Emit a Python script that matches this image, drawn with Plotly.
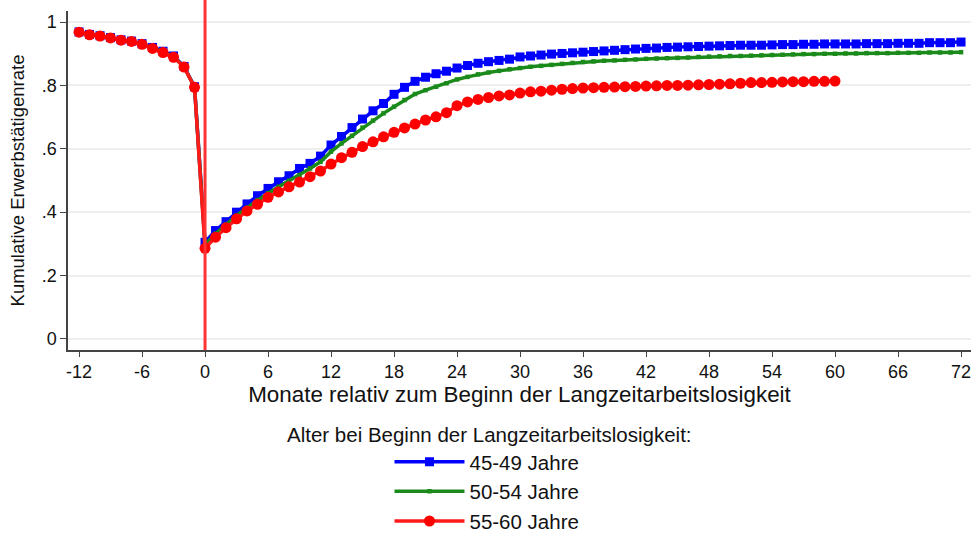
import plotly.graph_objects as go

# Monate relativ zum Beginn der Langzeitarbeitslosigkeit
months_all = list(range(-12, 73))
months_red = list(range(-12, 61))

# 45-49 Jahre
rate_45_49 = [0.969, 0.961, 0.957, 0.951, 0.944, 0.940, 0.932, 0.920, 0.908, 0.893, 0.860, 0.796,
              0.305, 0.342, 0.370, 0.400, 0.426, 0.452, 0.475, 0.496, 0.515, 0.538, 0.554, 0.577,
              0.612, 0.639, 0.667, 0.694, 0.720, 0.743, 0.772, 0.794, 0.813, 0.826, 0.837, 0.845,
              0.855, 0.863, 0.870, 0.875, 0.879, 0.883, 0.890, 0.893, 0.896, 0.899, 0.901, 0.903,
              0.905, 0.907, 0.909, 0.911, 0.913, 0.915, 0.917, 0.918, 0.920, 0.921, 0.922, 0.923,
              0.924, 0.925, 0.926, 0.927, 0.927, 0.927, 0.928, 0.929, 0.929, 0.930, 0.930, 0.931,
              0.931, 0.931, 0.931, 0.932, 0.932, 0.932, 0.933, 0.933, 0.933, 0.935, 0.935, 0.935,
              0.937]

# 50-54 Jahre
rate_50_54 = [0.968, 0.960, 0.956, 0.950, 0.943, 0.939, 0.931, 0.918, 0.906, 0.891, 0.859, 0.795,
              0.297, 0.332, 0.361, 0.389, 0.414, 0.438, 0.460, 0.480, 0.499, 0.517, 0.538, 0.559,
              0.591, 0.617, 0.641, 0.667, 0.689, 0.712, 0.733, 0.754, 0.773, 0.785, 0.796, 0.807,
              0.819, 0.827, 0.835, 0.841, 0.846, 0.851, 0.855, 0.859, 0.862, 0.865, 0.868, 0.871,
              0.874, 0.876, 0.878, 0.879, 0.881, 0.882, 0.884, 0.885, 0.886, 0.887, 0.888, 0.890,
              0.891, 0.892, 0.893, 0.893, 0.894, 0.895, 0.896, 0.897, 0.898, 0.899, 0.899, 0.900,
              0.900, 0.901, 0.901, 0.902, 0.902, 0.902, 0.903, 0.903, 0.903, 0.904, 0.904, 0.904,
              0.905]

# 55-60 Jahre
rate_55_60 = [0.968, 0.960, 0.956, 0.950, 0.943, 0.939, 0.930, 0.917, 0.904, 0.889, 0.858, 0.794,
              0.286, 0.321, 0.351, 0.379, 0.404, 0.425, 0.447, 0.464, 0.480, 0.495, 0.512, 0.530,
              0.552, 0.572, 0.589, 0.607, 0.622, 0.638, 0.652, 0.666, 0.678, 0.691, 0.701, 0.714,
              0.736, 0.748, 0.756, 0.762, 0.767, 0.770, 0.776, 0.780, 0.782, 0.785, 0.788, 0.790,
              0.792, 0.793, 0.794, 0.795, 0.796, 0.797, 0.798, 0.799, 0.800, 0.800, 0.801, 0.802,
              0.803, 0.804, 0.805, 0.807, 0.809, 0.809, 0.810, 0.811, 0.812, 0.812, 0.813, 0.813,
              0.814]

x_ticks = [-12, -6, 0, 6, 12, 18, 24, 30, 36, 42, 48, 54, 60, 66, 72]
x_labels = ['-12', '-6', '0', '6', '12', '18', '24', '30', '36', '42', '48', '54', '60', '66', '72']
y_ticks = [0, 0.2, 0.4, 0.6, 0.8, 1]
y_labels = ['0', '.2', '.4', '.6', '.8', '1']

font = 'Arial, Liberation Sans, sans-serif'

fig = go.Figure()

fig.add_trace(go.Scatter(x=months_all, y=rate_45_49, mode='lines+markers', name='45-49 Jahre',
                         line=dict(color='#0000ff', width=3.5),
                         marker=dict(symbol='square', size=9, color='#0000ff')))
fig.add_trace(go.Scatter(x=months_all, y=rate_50_54, mode='lines+markers', name='50-54 Jahre',
                         line=dict(color='#1a8a1a', width=3.5),
                         marker=dict(symbol='square', size=4.5, color='#1a8a1a')))
fig.add_trace(go.Scatter(x=months_red, y=rate_55_60, mode='lines+markers', name='55-60 Jahre',
                         line=dict(color='#ff1a1a', width=3.5),
                         marker=dict(symbol='circle', size=11, color='#ff0000')))

# Beginn der Langzeitarbeitslosigkeit
fig.add_shape(type='line', x0=0, x1=0, xref='x', yref='paper', y0=0, y1=1.0325,
              line=dict(color='#ff3333', width=3))

fig.add_annotation(text='Alter bei Beginn der Langzeitarbeitslosigkeit:', xref='paper', yref='paper',
                   x=0.467, y=-0.2507, xanchor='center', yanchor='middle', showarrow=False,
                   font=dict(size=20.5, color='#111111', family=font))

fig.update_layout(
    width=973, height=533,
    margin=dict(l=68, r=2, t=11, b=183, autoexpand=False),
    plot_bgcolor='white', paper_bgcolor='white',
    font=dict(family=font, color='#111111'),
    showlegend=True,
    legend=dict(x=0.464, xanchor='center', y=-0.271, yanchor='top', itemwidth=70,
                font=dict(size=20.5), tracegroupgap=0, bgcolor='rgba(0,0,0,0)'),
    xaxis=dict(range=[-13.05, 72.95], tickvals=x_ticks, ticktext=x_labels, showgrid=False,
               zeroline=False, showline=True, linecolor='#444444', linewidth=1.5,
               ticks='outside', ticklen=5, tickcolor='#444444', tickfont=dict(size=18),
               automargin=False,
               title=dict(text='Monate relativ zum Beginn der Langzeitarbeitslosigkeit',
                          font=dict(size=22.4), standoff=0)),
    yaxis=dict(range=[-0.035, 1.035], tickvals=y_ticks, ticktext=y_labels, showgrid=True,
               gridcolor='#eeeeee', gridwidth=1.5, zeroline=False, showline=True,
               linecolor='#444444', linewidth=1.5, ticks='outside', ticklen=6, tickcolor='#444444',
               tickfont=dict(size=18), automargin=False,
               title=dict(text='Kumulative Erwerbstätigenrate', font=dict(size=18.5), standoff=12)),
)

# drop the default 8px page margin so the figure fills the window
fig.write_html('out.html', config={'displayModeBar': False},
               post_script="document.body.style.margin='0';"
                           "document.documentElement.style.overflow='hidden';")
